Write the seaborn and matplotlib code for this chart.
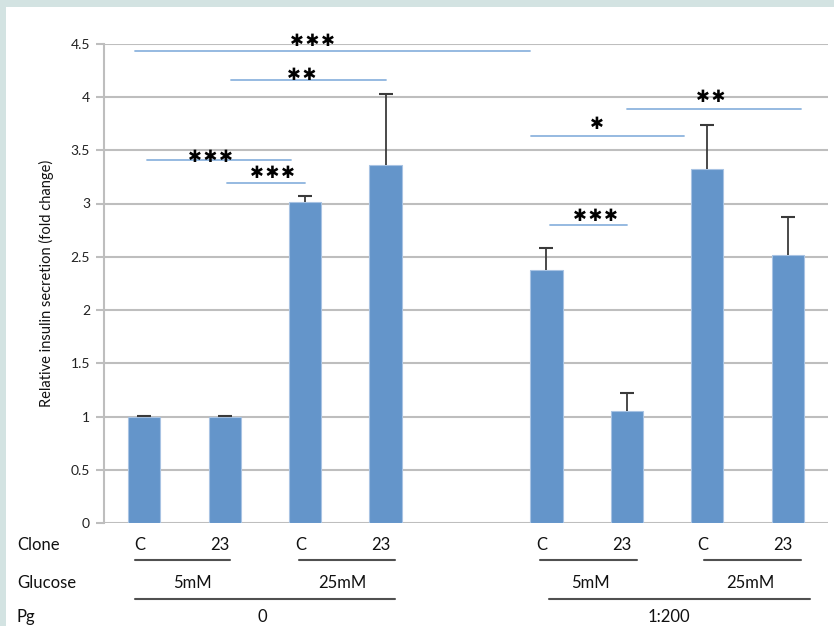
import numpy as np
import pandas as pd
import matplotlib
matplotlib.use("Agg")
import matplotlib.pyplot as plt
import matplotlib.transforms as mtransforms
import seaborn as sns

# Group design and measured secretion (mean and upper error)
clones = ["C", "23", "C", "23", "C", "23", "C", "23"]
glucose = ["5mM", "5mM", "25mM", "25mM", "5mM", "5mM", "25mM", "25mM"]
pg = ["0", "0", "0", "0", "1:200", "1:200", "1:200", "1:200"]
secretion = [1.00, 1.00, 3.01, 3.36, 2.38, 1.05, 3.32, 2.52]
sem = [0.005, 0.005, 0.06, 0.67, 0.20, 0.17, 0.42, 0.35]
yticks = [0, 0.5, 1, 1.5, 2, 2.5, 3, 3.5, 4, 4.5]

# Significance brackets (category units, fold-change units)
sig_x0 = [-0.11, 1.08, 0.03, 1.03, 4.81, 6.00, 5.05]
sig_x1 = [4.80, 3.00, 1.83, 2.00, 6.71, 8.16, 6.00]
sig_y = [4.43, 4.16, 3.41, 3.19, 3.63, 3.89, 2.80]
sig_tx = [2.09, 1.96, 0.82, 1.60, 5.63, 7.04, 5.61]
sig_ty = [4.52, 4.21, 3.44, 3.29, 3.75, 4.00, 2.88]
sig_stars = ["***", "**", "***", "***", "*", "**", "***"]

# Lower annotation rows
glucose_labels = ["5mM", "25mM", "5mM", "25mM"]
glucose_x = [0.60, 2.46, 5.55, 7.53]
pair_x0 = [-0.11, 1.93, 4.92, 6.96]
pair_x1 = [1.07, 3.12, 6.13, 8.16]
pg_labels = ["0", "1:200"]
pg_x = [1.47, 6.52]
group_x0 = [-0.11, 5.03]
group_x1 = [3.12, 8.28]

keys = [f"{c}|{g}|{p}" for c, g, p in zip(clones, glucose, pg)]
order = keys[:4] + ["gap"] + keys[4:]
df = pd.DataFrame({"group": keys, "secretion": secretion})

sns.set_theme(style="white")
plt.rcParams["font.family"] = ["Lato", "DejaVu Sans"]

BAR = "#6495CA"
GRID = "#BEBEBE"
SIG = "#8DB4DE"
DARK = "#505050"

fig = plt.figure(figsize=(8.34, 6.26), dpi=100, facecolor="#D3E3E2")
fig.patches.append(plt.Rectangle((6 / 834, 0), 1, 1 - 7 / 626, transform=fig.transFigure,
                                 facecolor="white", edgecolor="none", zorder=-10))
ax = fig.add_axes([104 / 834, 1 - 523.3 / 626, 724 / 834, 479.7 / 626])
ax.set_facecolor("none")

sns.barplot(data=df, x="group", y="secretion", order=order, color=BAR, width=0.4,
            saturation=1, edgecolor="#A8C3E3", linewidth=0.8, errorbar=None, ax=ax, zorder=3)

# Upper-only error bars
xpos = [order.index(k) for k in keys]
eb = ax.errorbar(xpos, secretion, yerr=[np.zeros(len(sem)), sem], fmt="none",
                 ecolor="#3A3A3A", elinewidth=1.3, capsize=5, capthick=1.5, zorder=4)
eb[1][0].set_visible(False)

ax.set_xlim(-0.5, 8.5)
ax.set_ylim(0, 4.5)
ax.set_yticks(yticks)
ax.set_yticklabels([f"{t:g}" for t in yticks], fontsize=10, color="#222222")
ax.set_xticks([])
ax.set_xlabel("")
ax.set_ylabel("Relative insulin secretion (fold change)", fontsize=10.5, color="#111111", labelpad=12)
ax.yaxis.grid(True, color=GRID, linewidth=1.5, zorder=0)
ax.set_axisbelow(True)
for side in ["top", "right", "bottom"]:
    ax.spines[side].set_visible(False)
ax.spines["left"].set_color(GRID)
ax.spines["left"].set_linewidth(1.5)
ax.tick_params(axis="y", which="both", left=True, length=6, width=1.5, color=GRID, pad=4)

# Significance brackets
for x0, x1, y, tx, ty, s in zip(sig_x0, sig_x1, sig_y, sig_tx, sig_ty, sig_stars):
    ax.plot([x0, x1], [y, y], color=SIG, linewidth=1.3, clip_on=False, zorder=2)
    ax.text(tx, ty, "\u200a".join("\u2731" * len(s)), ha="center", va="center", fontsize=12,
            color="black", family=["DejaVu Sans"], clip_on=False, zorder=5)

# Lower annotation rows (x in category units, y in axes fraction)
tr = ax.get_xaxis_transform()
row_tr = mtransforms.blended_transform_factory(fig.transFigure, ax.transAxes)
y_clone, y_pair, y_glu, y_group, y_pg = -0.045, -0.0765, -0.1245, -0.158, -0.195
txt_kw = dict(fontsize=12, color="#111111")

for x, c in zip(xpos, clones):
    ax.text(x - 0.06, y_clone, c, transform=tr, ha="center", va="center", **txt_kw)
for x0, x1 in zip(pair_x0, pair_x1):
    ax.plot([x0, x1], [y_pair, y_pair], transform=tr, color=DARK, linewidth=1.5, clip_on=False)
for x, g in zip(glucose_x, glucose_labels):
    ax.text(x, y_glu, g, transform=tr, ha="center", va="center", **txt_kw)
for x0, x1 in zip(group_x0, group_x1):
    ax.plot([x0, x1], [y_group, y_group], transform=tr, color=DARK, linewidth=1.5, clip_on=False)
for x, p in zip(pg_x, pg_labels):
    ax.text(x, y_pg, p, transform=tr, ha="center", va="center", **txt_kw)

for y, lab in zip([y_clone, y_glu, y_pg], ["Clone", "Glucose", "Pg"]):
    ax.text(17 / 834, y, lab, transform=row_tr, ha="left", va="center", **txt_kw)

fig.savefig("out.png", dpi=100, facecolor=fig.get_facecolor())
